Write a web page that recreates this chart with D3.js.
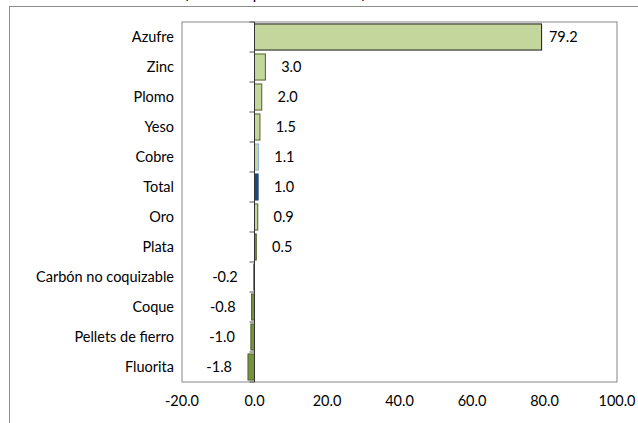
<meta charset="utf-8">
<style>
    body{ margin:0; background:#fff; }
    text{ font-family:Lato, "Open Sans", sans-serif; fill:#000; }
</style>
<script src="https://d3js.org/d3.v7.min.js"></script>
<body>
<div id="chart"></div>
<script>
    // data
    var categorias = ["Azufre","Zinc","Plomo","Yeso","Cobre","Total","Oro","Plata",
                      "Carbón no coquizable","Coque","Pellets de fierro","Fluorita"];
    var valores = [79.2, 3.0, 2.0, 1.5, 1.1, 1.0, 0.9, 0.5, -0.2, -0.8, -1.0, -1.8];
    var ticksX = [-20, 0, 20, 40, 60, 80, 100];
    var titulo = "(Variación porcentual anual)";

    var W = 638, H = 423;
    var m = {left:182, right:21, top:22, bottom:41};
    var fmt = function(v){ return v.toFixed(1); };   // plain hyphen for negatives

    svg = d3.select("#chart").append("svg")
            .attr("width", W)
            .attr("height", H);

    // outer chart frame (only left and top edges fall inside the window)
    svg.append("rect")
       .attr("x", 9.5).attr("y", 6.5)
       .attr("width", W + 20).attr("height", H + 20)
       .attr("fill", "none").attr("stroke", "#8c8c8c").attr("stroke-width", 1);

    // title, cut by the top of the window as in the original
    svg.append("text")
       .attr("x", 275).attr("y", -1)
       .attr("text-anchor", "middle")
       .style("font-size", "15px")
       .text(titulo);

    var x = d3.scaleLinear().domain([-20, 100]).range([m.left, W - m.right]);
    var y = d3.scaleBand().domain(categorias).range([m.top, H - m.bottom]).paddingInner(0.13).paddingOuter(0.065);

    // plot area border
    svg.append("rect")
       .attr("x", x(-20)).attr("y", m.top)
       .attr("width", x(100) - x(-20)).attr("height", H - m.bottom - m.top)
       .attr("fill", "none").attr("stroke", "#868686").attr("stroke-width", 1);

    function relleno(d, i){
        if(categorias[i] == "Total") return "#1f497d";
        if(d < 0 || categorias[i] == "Plata") return "#77933c";
        return "#c3d69b";
    }
    function borde(d, i){
        if(categorias[i] == "Azufre") return "#1a1a1a";
        if(categorias[i] == "Cobre") return "#8db3e2";
        if(categorias[i] == "Total") return "#1f497d";
        return "#4f6228";
    }

    svg.selectAll(".barra")
       .data(valores)
       .enter().append("rect")
       .attr("class", "barra")
       .attr("x", function(d){ return Math.min(x(d), x(0)); })
       .attr("y", function(d, i){ return y(categorias[i]); })
       .attr("width", function(d){ return Math.abs(x(d) - x(0)); })
       .attr("height", y.bandwidth())
       .attr("fill", relleno)
       .attr("stroke", borde)
       .attr("stroke-width", 1);

    // value labels
    svg.selectAll(".etiqueta")
       .data(valores)
       .enter().append("text")
       .attr("class", "etiqueta")
       .attr("x", function(d){ return d >= 0 ? x(d) + 36 : x(d) - 16; })
       .attr("y", function(d, i){ return y(categorias[i]) + y.bandwidth()/2; })
       .attr("dy", "0.35em")
       .attr("text-anchor", "end")
       .style("font-size", "14.5px")
       .text(fmt);

    // category names
    svg.selectAll(".cat")
       .data(categorias)
       .enter().append("text")
       .attr("class", "cat")
       .attr("x", m.left - 8)
       .attr("y", function(d){ return y(d) + y.bandwidth()/2; })
       .attr("dy", "0.35em")
       .attr("text-anchor", "end")
       .style("font-size", "14.5px")
       .text(function(d){ return d; });

    // category axis at zero, ticks between categories
    var fronteras = d3.range(categorias.length + 1).map(function(k){ return m.top + k * (H - m.bottom - m.top) / categorias.length; });
    svg.selectAll(".tick-cat")
       .data(fronteras)
       .enter().append("line")
       .attr("x1", x(0) - 5).attr("x2", x(0))
       .attr("y1", function(d){ return d; }).attr("y2", function(d){ return d; })
       .attr("stroke", "#555").attr("stroke-width", 1);
    svg.append("line")
       .attr("x1", x(0)).attr("x2", x(0))
       .attr("y1", m.top).attr("y2", H - m.bottom)
       .attr("stroke", "#333").attr("stroke-width", 1);

    // value axis labels
    svg.selectAll(".tx")
       .data(ticksX)
       .enter().append("text")
       .attr("class", "tx")
       .attr("x", function(d){ return x(d); })
       .attr("y", H - m.bottom + 24)
       .attr("text-anchor", "middle")
       .style("font-size", "14.5px")
       .text(fmt);
</script>
</body>
